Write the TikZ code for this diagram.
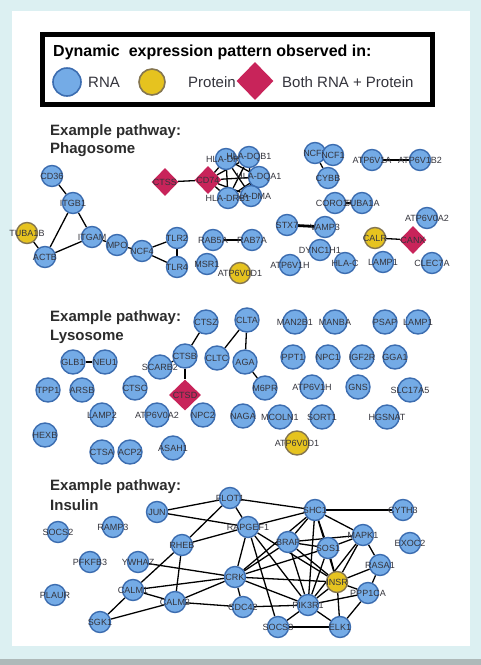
\documentclass[tikz,border=0pt]{standalone}
\usepackage{fontspec}
\setmainfont{Liberation Sans}
\usetikzlibrary{shapes.geometric}
\pgfdeclarelayer{back}
\pgfdeclarelayer{edges}
\pgfsetlayers{back,edges,main}
\definecolor{framebg}{HTML}{DCF0F2}
\definecolor{bottombar}{HTML}{AEB9B9}
\definecolor{rnafill}{HTML}{74ABE6}
\definecolor{rnaedge}{HTML}{3C6DB0}
\definecolor{protfill}{HTML}{E6C31F}
\definecolor{protedge}{HTML}{857650}
\definecolor{bothfill}{HTML}{C8245A}
\definecolor{labcol}{HTML}{34343C}
\definecolor{titlecol}{HTML}{2C2C2C}

\begin{document}
\begin{tikzpicture}[x=1pt, y=-1pt,
    genetxt/.style={font=\fontsize{9}{9}\selectfont, text=labcol, inner sep=0pt},
    rna/.style={circle, draw=rnaedge, fill=rnafill, line width=1.4pt, minimum size=21pt, inner sep=0pt, label={[genetxt]center:#1}},
    prot/.style={circle, draw=protedge, fill=protfill, line width=1.4pt, minimum size=21pt, inner sep=0pt, label={[genetxt]center:#1}},
    both/.style={diamond, fill=bothfill, minimum width=27pt, minimum height=28pt, inner sep=0pt, label={[genetxt]center:#1}},
    big/.style={minimum size=24pt},
    link/.style={line width=1.3pt, black},
    hard/.style={line width=2.8pt, black},
    title/.style={font=\fontsize{15}{15}\selectfont\bfseries, text=titlecol, anchor=west, inner sep=0pt}]

  \useasboundingbox (0,0) rectangle (481,665);
  \begin{pgfonlayer}{back}
    \fill[framebg] (0,0) rectangle (481,665);
    \fill[white] (12,11) rectangle (470,646);
    \fill[bottombar] (0,659) rectangle (481,665);
  \end{pgfonlayer}

  % legend
  \draw[line width=5pt] (42.5,34.5) rectangle (432.5,104.5);
  \node[anchor=west, inner sep=0pt, font=\fontsize{16}{16}\selectfont\bfseries] (keytitle) at (53,52) {Dynamic\ \ expression pattern observed in:};
  \node[circle, draw=rnaedge, fill=rnafill, line width=1.6pt, minimum size=28pt] (keyrna) at (67,82) {};
  \node[anchor=west, inner sep=0pt, font=\fontsize{15}{15}\selectfont, text=labcol] (keyrnatxt) at (88,82) {RNA};
  \node[circle, draw=protedge, fill=protfill, line width=1.6pt, minimum size=26pt] (keyprot) at (152,82) {};
  \node[anchor=west, inner sep=0pt, font=\fontsize{15}{15}\selectfont, text=labcol] (keyprottxt) at (188,82) {Protein};
  \node[diamond, fill=bothfill, minimum width=37pt, minimum height=38pt, inner sep=0pt] (keyboth) at (255,81) {};
  \node[anchor=west, inner sep=0pt, font=\fontsize{15}{15}\selectfont, text=labcol] (keybothtxt) at (282,82) {Both RNA + Protein};

  % phagosome
  \node[title] (phagoa) at (50,132) {Example pathway:};
  \node[title] (phagob) at (50,150) {Phagosome};

  \node[rna=CD36] (cd36) at (52,176) {};
  \node[rna=ITGB1] (itgb1) at (73,203) {};
  \node[prot=TUBA1B] (tuba1b) at (27,233) {};
  \node[rna=ACTB] (actb) at (45,257) {};
  \node[rna=ITGAM] (itgam) at (92,237) {};
  \node[rna=MPO] (mpo) at (117,245) {};
  \node[rna=NCF4] (ncf4) at (142,251) {};
  \node[rna=TLR2] (tlr2) at (177,238) {};
  \node[rna=TLR4] (tlr4) at (177,267) {};
  \node[rna=MSR1] (msr1) at (207,264) {};
  \node[prot=ATP6V0D1] (vodp) at (240,273) {};
  \node[rna=RAB5A] (rab5a) at (213,240) {};
  \node[rna=RAB7A] (rab7a) at (252,240) {};
  \node[both=CTSS] (ctss) at (165,182) {};
  \node[both=CD74] (cd74) at (208,180) {};
  \node[rna=HLA-DRA] (hladra) at (226,159) {};
  \node[rna=HLA-DQB1] (hladqb1) at (249,157) {};
  \node[rna=HLA-DQA1] (hladqa1) at (259,177) {};
  \node[rna=HLA-DMA] (hladma) at (251,196) {};
  \node[rna=HLA-DRB1] (hladrb1) at (228,198) {};
  \node[rna=NCF2] (ncf2) at (315,153) {};
  \node[rna=NCF1] (ncf1) at (333,155) {};
  \node[rna=CYBB] (cybb) at (328,178) {};
  \node[rna=ATP6V1A] (v1a) at (372,160) {};
  \node[rna=ATP6V1B2] (v1b2) at (420,160) {};
  \node[rna=CORO1A] (coro1a) at (335,203) {};
  \node[rna=TUBA1A] (tuba1a) at (362,203) {};
  \node[rna=STX7] (stx7) at (287,225) {};
  \node[rna=VAMP3] (vamp3) at (325,227) {};
  \node[rna=DYNC1H1] (dync1h1) at (320,250) {};
  \node[prot=CALR] (calr) at (375,238) {};
  \node[both=CANX] (canx) at (413,240) {};
  \node[rna=ATP6V0A2] (voap) at (427,218) {};
  \node[rna=ATP6V1H] (v1hp) at (290,265) {};
  \node[rna=HLA-C] (hlac) at (345,263) {};
  \node[rna=LAMP1] (lamp1p) at (383,262) {};
  \node[rna=CLEC7A] (clec7a) at (432,263) {};

  \begin{pgfonlayer}{edges}
    \foreach \a/\b in {cd36/itgb1, itgb1/itgam, itgb1/actb, tuba1b/actb, actb/itgam,
        itgam/mpo, mpo/ncf4, ncf4/tlr2, ncf4/tlr4, tlr2/tlr4, ctss/cd74,
        ncf2/cybb, ncf2/ncf1, calr/canx}
      \draw[link] (\a) -- (\b);
    \foreach \a/\b in {rab5a/rab7a, v1a/v1b2, coro1a/tuba1a, stx7/vamp3}
      \draw[hard] (\a) -- (\b);
    % MHC II cluster, all linked
    \foreach \a [count=\i] in {cd74,hladra,hladqb1,hladqa1,hladma,hladrb1}
      \foreach \b [count=\j] in {cd74,hladra,hladqb1,hladqa1,hladma,hladrb1}
        {\ifnum\j>\i \draw[link] (\a) -- (\b); \fi}
  \end{pgfonlayer}

  % lysosome
  \node[title] (lysoa) at (50,318) {Example pathway:};
  \node[title] (lysob) at (50,337) {Lysosome};

  \node[rna=GLB1, big] (glb1) at (73,362) {};
  \node[rna=NEU1, big] (neu1) at (105,362) {};
  \node[rna=TPP1, big] (tpp1) at (48,390) {};
  \node[rna=ARSB, big] (arsb) at (82,390) {};
  \node[rna=CTSC, big] (ctsc) at (135,388) {};
  \node[rna=SCARB2, big] (scarb2) at (160,367) {};
  \node[rna=CTSB, big] (ctsb) at (185,356) {};
  \node[rna=CTSZ, big] (ctsz) at (206,322) {};
  \node[both=CTSD, minimum width=32pt, minimum height=31pt] (ctsd) at (185,395) {};
  \node[rna=CLTA, big] (clta) at (247,320) {};
  \node[rna=CLTC, big] (cltc) at (217,358) {};
  \node[rna=AGA, big] (aga) at (245,362) {};
  \node[rna=M6PR, big] (m6pr) at (265,388) {};
  \node[rna=LAMP2, big] (lamp2) at (102,415) {};
  \node[rna=ATP6V0A2, big] (voal) at (157,415) {};
  \node[rna=NPC2, big] (npc2) at (203,415) {};
  \node[rna=NAGA, big] (naga) at (243,416) {};
  \node[rna=HEXB, big] (hexb) at (45,435) {};
  \node[rna=CTSA, big] (ctsa) at (102,452) {};
  \node[rna=ACP2, big] (acp2) at (130,452) {};
  \node[rna=ASAH1, big] (asah1) at (173,448) {};
  \node[rna=MAN2B1, big] (man2b1) at (295,322) {};
  \node[rna=MANBA, big] (manba) at (335,322) {};
  \node[rna=PSAP, big] (psap) at (385,322) {};
  \node[rna=LAMP1, big] (lamp1l) at (418,322) {};
  \node[rna=PPT1, big] (ppt1) at (293,357) {};
  \node[rna=NPC1, big] (npc1) at (328,357) {};
  \node[rna=IGF2R, big] (igf2r) at (362,357) {};
  \node[rna=GGA1, big] (gga1) at (395,357) {};
  \node[rna=ATP6V1H, big] (v1hl) at (312,387) {};
  \node[rna=GNS, big] (gns) at (358,387) {};
  \node[rna=SLC17A5, big] (slc17a5) at (410,390) {};
  \node[rna=MCOLN1, big] (mcoln1) at (280,417) {};
  \node[rna=SORT1, big] (sort1) at (322,417) {};
  \node[rna=HGSNAT, big] (hgsnat) at (387,417) {};
  \node[prot=ATP6V0D1, big] (vodl) at (297,443) {};

  \begin{pgfonlayer}{edges}
    \foreach \a/\b in {ctsz/ctsb, clta/cltc, clta/aga, aga/m6pr, ctsb/ctsd, scarb2/ctsb}
      \draw[link] (\a) -- (\b);
    \draw[hard] (glb1) -- (neu1);
  \end{pgfonlayer}

  % insulin
  \node[title] (insa) at (50,487) {Example pathway:};
  \node[title] (insb) at (50,505) {Insulin};

  \node[rna=JUN] (jun) at (157,512) {};
  \node[rna=FLOT1] (flot1) at (230,498) {};
  \node[rna=RAPGEF1] (rapgef1) at (248,527) {};
  \node[rna=RHEB] (rheb) at (182,545) {};
  \node[rna=SOCS2] (socs2) at (58,532) {};
  \node[rna=RAMP3] (ramp3) at (113,527) {};
  \node[rna=PFKFB3] (pfkfb3) at (90,562) {};
  \node[rna=YWHAZ] (ywhaz) at (138,562) {};
  \node[rna=CALM1] (calm1) at (133,590) {};
  \node[rna=CALM2] (calm2) at (175,602) {};
  \node[rna=CRK] (crk) at (235,577) {};
  \node[rna=SGK1] (sgk1) at (100,622) {};
  \node[rna=PLAUR] (plaur) at (55,595) {};
  \node[rna=CDC42] (cdc42) at (243,607) {};
  \node[rna=SHC1] (shc1) at (315,510) {};
  \node[rna=CYTH3] (cyth3) at (403,510) {};
  \node[rna=EXOC2] (exoc2) at (410,543) {};
  \node[rna=MAPK1] (mapk1) at (363,535) {};
  \node[rna=BRAF] (braf) at (288,542) {};
  \node[rna=SOS1] (sos1) at (328,548) {};
  \node[rna=RASA1] (rasa1) at (380,565) {};
  \node[prot=INSR] (insr) at (337,582) {};
  \node[rna=PPP1CA] (ppp1ca) at (368,593) {};
  \node[rna=PIK3R1] (pik3r1) at (308,605) {};
  \node[rna=ELK1] (elk1) at (340,627) {};
  \node[rna=SOCS3] (socs3) at (278,627) {};

  \begin{pgfonlayer}{edges}
    \foreach \a/\b in {jun/flot1, jun/rapgef1, flot1/rapgef1, flot1/shc1, flot1/rheb,
        rheb/rapgef1, rheb/calm1, rheb/calm2,
        rapgef1/shc1, rapgef1/crk, rapgef1/pik3r1, rapgef1/socs3, rapgef1/insr,
        ywhaz/crk, calm1/crk, calm1/calm2, calm1/sgk1,
        calm2/sgk1, calm2/crk, calm2/cdc42,
        crk/shc1, crk/braf, crk/sos1, crk/insr, crk/cdc42, crk/pik3r1,
        shc1/cyth3, shc1/braf, shc1/sos1, shc1/mapk1, shc1/insr, shc1/pik3r1,
        braf/mapk1, braf/sos1, braf/insr, braf/pik3r1,
        sos1/mapk1, sos1/insr, sos1/pik3r1,
        mapk1/rasa1, mapk1/insr, mapk1/pik3r1,
        rasa1/insr, rasa1/ppp1ca,
        insr/ppp1ca, insr/pik3r1, insr/elk1,
        pik3r1/cdc42, pik3r1/elk1, pik3r1/ppp1ca, pik3r1/socs3,
        socs3/elk1, ppp1ca/elk1}
      \draw[link] (\a) -- (\b);
  \end{pgfonlayer}
\end{tikzpicture}
\end{document}
